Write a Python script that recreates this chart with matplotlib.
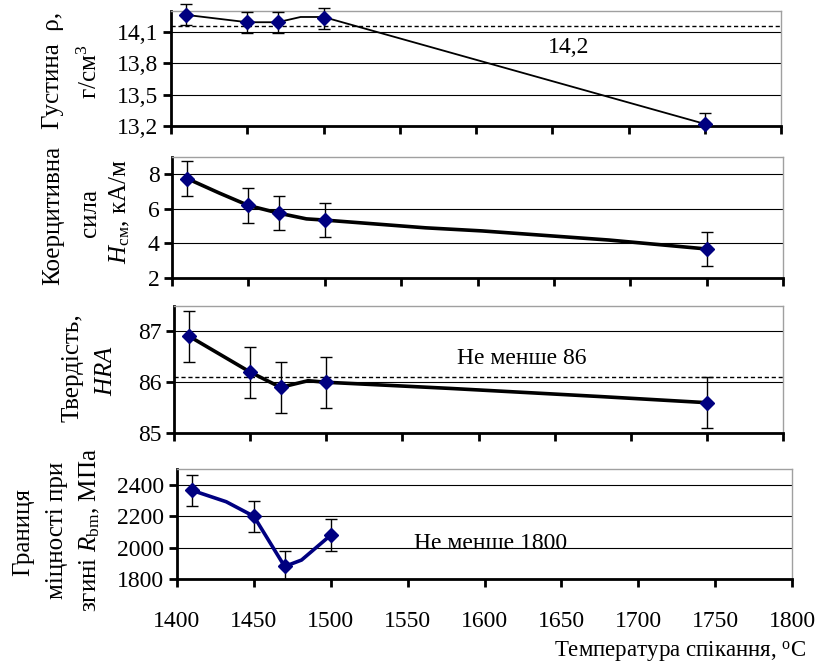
import matplotlib
matplotlib.use("Agg")
import matplotlib.pyplot as plt
from matplotlib.patches import Rectangle

plt.rcParams['font.family'] = ['Liberation Serif', 'DejaVu Serif']
plt.rcParams['mathtext.fontset'] = 'custom'
plt.rcParams['mathtext.rm'] = 'Liberation Serif'
plt.rcParams['mathtext.it'] = 'Liberation Serif:italic'

# ---- data ----
temps = [1410, 1450, 1470, 1500, 1750]

density = [14.26, 14.19, 14.19, 14.23, 13.22]
density_err = [0.1, 0.1, 0.1, 0.1, 0.1]
density_line_x = [1410, 1450, 1470, 1485, 1500, 1750]
density_line_y = [14.26, 14.19, 14.19, 14.24, 14.24, 13.22]
density_limit = 14.15

coercive = [7.76, 6.2, 5.75, 5.35, 3.67]
coercive_err = [1.0, 1.0, 1.0, 1.0, 1.0]
coercive_line_x = [1410, 1431, 1450, 1470, 1488, 1500, 1566, 1603, 1686, 1750]
coercive_line_y = [7.76, 6.92, 6.2, 5.75, 5.42, 5.35, 4.9, 4.72, 4.19, 3.67]

hardness = [86.9, 86.2, 85.9, 86.0, 85.6]
hardness_err = [0.5, 0.5, 0.5, 0.5, 0.5]
hardness_line_x = [1410, 1450, 1470, 1488, 1500, 1581, 1680, 1750]
hardness_line_y = [86.9, 86.2, 85.9, 86.03, 86.0, 85.88, 85.72, 85.6]
hardness_limit = 86.1

strength_temps = [1410, 1450, 1470, 1500]
strength = [2365, 2200, 1880, 2080]
strength_err = [100, 100, 100, 100]
strength_line_x = [1410, 1432, 1450, 1470, 1481, 1500]
strength_line_y = [2365, 2293, 2200, 1880, 1921, 2080]

x_ticks = [1400, 1450, 1500, 1550, 1600, 1650, 1700, 1750, 1800]
y1_ticks = [13.2, 13.5, 13.8, 14.1]
y1_labels = ['13,2', '13,5', '13,8', '14,1']
y2_ticks = [2, 4, 6, 8]
y3_ticks = [85, 86, 87]
y4_ticks = [1800, 2000, 2200, 2400]

W, H = 817, 666
fig = plt.figure(figsize=(W / 100, H / 100), dpi=100)

def px_axes(l, r, t, b):
    return fig.add_axes([l / W, 1 - b / H, (r - l) / W, (b - t) / H])

ax1 = px_axes(171, 781, 10.7, 126)
ax2 = px_axes(172, 783, 157.3, 277.7)
ax3 = px_axes(174, 783, 305.7, 433.3)
ax4 = px_axes(177, 792, 469.3, 579)

FS_TICK = 17
FS_LAB = 18
FS_TXT = 17
NAVY = '#000080'

def style(ax, yt, ylab, ylim, show_x):
    ax.set_xlim(1400, 1800)
    ax.set_ylim(*ylim)
    ax.set_xticks(x_ticks)
    ax.set_yticks(yt)
    ax.set_yticklabels(ylab, fontsize=FS_TICK)
    if show_x:
        ax.set_xticklabels([str(v) for v in x_ticks], fontsize=FS_TICK)
    else:
        ax.set_xticklabels([])
    for s in ['left', 'bottom']:
        ax.spines[s].set_linewidth(2.0)
        ax.spines[s].set_color('black')
    for s in ['top', 'right']:
        ax.spines[s].set_linewidth(1.0)
        ax.spines[s].set_color('#a0a0a0')
    ax.tick_params(axis='both', direction='out', length=6, width=2, pad=3)
    ax.tick_params(axis='x', pad=17)
    ax.yaxis.grid(True, color='black', linewidth=0.8)
    ax.set_axisbelow(True)

def series(ax, x, y, err, lx, ly, lcolor, lw):
    ax.plot(lx, ly, color=lcolor, linewidth=lw, zorder=3, clip_on=False)
    eb = ax.errorbar(x, y, yerr=err, fmt='none', ecolor='black', elinewidth=1.0,
                     capsize=4, capthick=1.0, zorder=4)
    clip = Rectangle((0, 0), 1, 1.6, transform=ax.transAxes, visible=False)
    ax.add_patch(clip)
    for art in list(eb.lines[1]) + list(eb.lines[2]):
        art.set_clip_path(clip)
    ax.plot(x, y, linestyle='none', marker='D', markersize=7.5, color=NAVY,
            markeredgecolor=NAVY, zorder=5, clip_on=False)

# Panel 1
style(ax1, y1_ticks, y1_labels, (13.2, 14.3), False)
ax1.axhline(density_limit, color='black', linestyle=(0, (3, 2)), linewidth=1.0, zorder=2)
series(ax1, temps, density, density_err, density_line_x, density_line_y, 'black', 1.3)
ax1.text(1647, 13.897, '14,2', fontsize=FS_TXT, ha='left', va='baseline')

# Panel 2
style(ax2, y2_ticks, [str(v) for v in y2_ticks], (2, 9), False)
series(ax2, temps, coercive, coercive_err, coercive_line_x, coercive_line_y, 'black', 2.6)

# Panel 3
style(ax3, y3_ticks, [str(v) for v in y3_ticks], (85, 87.5), False)
ax3.axhline(hardness_limit, color='black', linestyle=(0, (3, 2)), linewidth=1.0, zorder=2)
series(ax3, temps, hardness, hardness_err, hardness_line_x, hardness_line_y, 'black', 2.6)
ax3.text(1586, 86.35, 'Не менше 86', fontsize=FS_TXT, ha='left', va='baseline')

# Panel 4
style(ax4, y4_ticks, [str(v) for v in y4_ticks], (1800, 2500), True)
series(ax4, strength_temps, strength, strength_err, strength_line_x, strength_line_y, NAVY, 2.6)
ax4.text(1554, 1990, 'Не менше 1800', fontsize=FS_TXT, ha='left', va='baseline')

# Y labels
def ylabel(x, y, s, fs=FS_LAB):
    fig.text(x / W, 1 - y / H, s, rotation=90, ha='center', va='center', fontsize=fs)

ylabel(53, 70, 'Густина  ρ,')
ylabel(90, 72, 'г/см$^{3}$')
ylabel(53, 215, 'Коерцитивна')
ylabel(90, 213, 'сила')
ylabel(120, 212, r'$\mathit{H}_{\mathrm{см}}$, кА/м')
ylabel(73, 368, 'Твердість,')
ylabel(106, 371, r'$\mathit{HRA}$')
ylabel(23, 532, 'Границя')
ylabel(57, 530, 'міцності при')
ylabel(90, 530, r'згині $\mathit{R}_{\mathrm{bm}}$, МПа')

# X label
fig.text(806 / W, 1 - 652 / H, 'Температура спікання, $^{\\mathrm{o}}$C', ha='right', va='center', fontsize=16.5)

fig.savefig('out.png', dpi=100)
